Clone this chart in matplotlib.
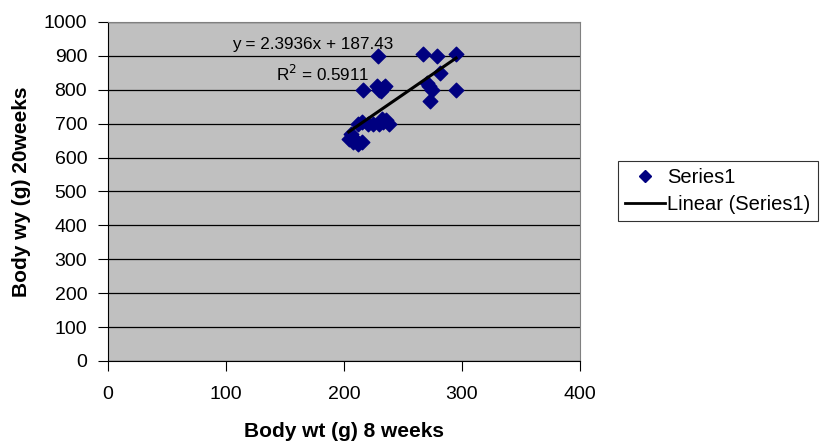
import numpy as np
import matplotlib.pyplot as plt
from matplotlib.lines import Line2D

# body weight at 8 weeks (x) and at 20 weeks (y)
wt_8wk = [229, 267, 279, 295, 281, 216, 228, 230, 233, 235, 231, 295,
          270, 272, 275, 273, 212, 215, 225, 230, 233, 236, 238, 232,
          204, 207, 210, 212, 208, 215, 206, 220]
wt_20wk = [900, 905, 900, 905, 850, 800, 810, 800, 805, 812, 795, 800,
           820, 810, 800, 768, 700, 705, 700, 700, 705, 712, 700, 715,
           655, 660, 650, 640, 645, 645, 670, 700]

# trendline reported on the chart
slope = 2.3936
intercept = 187.43
r_squared = 0.5911

plt.rcParams['font.family'] = ['Liberation Sans', 'DejaVu Sans']

fig = plt.figure(figsize=(8.29, 4.44), dpi=100)
ax = fig.add_axes([0.1303, 0.187, 0.5693, 0.7635])
ax.set_facecolor('#C0C0C0')

ax.set_xlim(0, 400)
ax.set_ylim(0, 1000)
ax.set_xticks(np.arange(0, 401, 100))
ax.set_yticks(np.arange(0, 1001, 100))
ax.yaxis.grid(True, color='black', linewidth=0.9)
ax.set_axisbelow(True)

ax.scatter(wt_8wk, wt_20wk, marker='D', s=55, color='#000080', zorder=3)

xfit = np.array([min(wt_8wk), max(wt_8wk)])
ax.plot(xfit, slope * xfit + intercept, color='black', linewidth=2.2, zorder=4)

fig.text(313 / 829, 1 - 44 / 444, f'y = {slope}x + {intercept}', fontsize=12.3,
         ha='center', va='center')
fig.text(323 / 829, 1 - 74 / 444, f'R$^2$ = {r_squared}', fontsize=12.3,
         ha='center', va='center')

for side in ['top', 'right']:
    ax.spines[side].set_color('#808080')
for side in ['left', 'bottom']:
    ax.spines[side].set_color('black')
ax.tick_params(direction='out', length=7, labelsize=14, color='black', pad=8)
ax.tick_params(axis='x', pad=11)

ax.set_xlabel('Body wt (g) 8 weeks', fontsize=15, fontweight='bold', labelpad=14)
ax.set_ylabel('Body wy (g) 20weeks', fontsize=15, fontweight='bold', labelpad=9)

handles = [Line2D([], [], marker='D', color='#000080', linestyle='none', markersize=6.5),
           Line2D([], [], color='black', linewidth=2)]
leg = fig.legend(handles, ['Series1', 'Linear (Series1)'],
                 loc='center left', bbox_to_anchor=(618 / 829, 1 - 191 / 444),
                 fontsize=14.5, frameon=True, fancybox=False, edgecolor='black',
                 handlelength=2.0, handletextpad=0.1, borderpad=0.35,
                 labelspacing=0.4, borderaxespad=0)
leg.get_frame().set_linewidth(0.8)

fig.savefig('out.png', dpi=100)
